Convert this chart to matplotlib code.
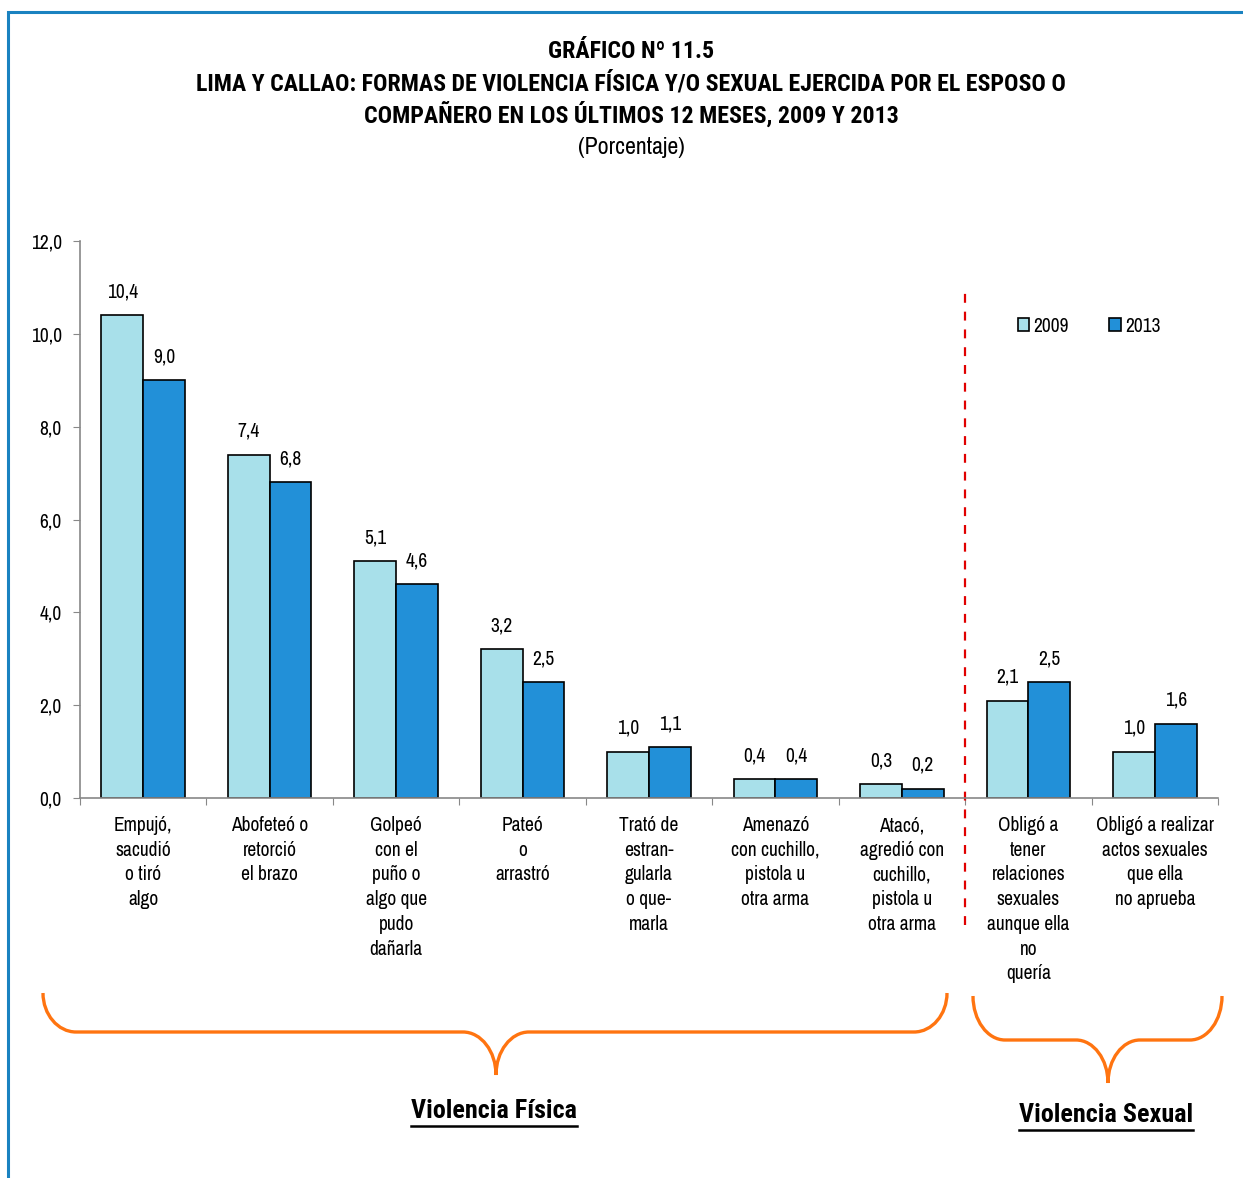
import matplotlib
matplotlib.use('Agg')
import matplotlib.pyplot as plt
import numpy as np
from matplotlib import font_manager
from matplotlib.path import Path
from matplotlib.patches import PathPatch, Patch

# narrow sans like Arial Narrow, falls back to Liberation Sans
CANDIDATES = ['Liberation Sans Narrow', 'Arial Narrow', 'Archivo Narrow',
              'Roboto Condensed', 'PT Sans Narrow', 'Open Sans Condensed']


def wt(f):
    w = f.weight
    if isinstance(w, str):
        return 700 if 'bold' in w.lower() else 400
    return int(w)


fonts = font_manager.fontManager.ttflist
regular = [n for n in CANDIDATES if any(f.name == n and wt(f) < 600 for f in fonts)]
bold = [n for n in CANDIDATES if any(f.name == n and wt(f) >= 700 for f in fonts)]
REG = regular[:1] + ['Liberation Sans', 'DejaVu Sans']
BOLD = bold[:1] + ['Liberation Sans', 'DejaVu Sans']
plt.rcParams['font.family'] = REG

categories = [
    "Empujó,\nsacudió\no tiró\nalgo",
    "Abofeteó o\nretorció\nel brazo",
    "Golpeó\ncon el\npuño o\nalgo que\npudo\ndañarla",
    "Pateó\no\narrastró",
    "Trató de\nestran-\ngularla\no que-\nmarla",
    "Amenazó\ncon cuchillo,\npistola u\notra arma",
    "Atacó,\nagredió con\ncuchillo,\npistola u\notra arma",
    "Obligó a\ntener\nrelaciones\nsexuales\naunque ella\nno\nquería",
    "Obligó a realizar\nactos sexuales\nque ella\nno aprueba",
]
v2009 = [10.4, 7.4, 5.1, 3.2, 1.0, 0.4, 0.3, 2.1, 1.0]
v2013 = [9.0, 6.8, 4.6, 2.5, 1.1, 0.4, 0.2, 2.5, 1.6]
years = ["2009", "2013"]
yticks = [0, 2, 4, 6, 8, 10, 12]

C09 = '#A8E0EA'
C13 = '#2290D8'
ORANGE = '#FF7410'
W, H = 1243, 1178
FS = 14

fig = plt.figure(figsize=(W / 100, H / 100), dpi=100)
ax = fig.add_axes([80 / W, 1 - 798 / H, (1218 - 80) / W, (798 - 241) / H])

x = np.arange(len(categories))
bw = 0.33
b1 = ax.bar(x - bw / 2, v2009, bw, color=C09, edgecolor='black', linewidth=1.2, label=years[0])
b2 = ax.bar(x + bw / 2, v2013, bw, color=C13, edgecolor='black', linewidth=1.2, label=years[1])

for bars, vals in ((b1, v2009), (b2, v2013)):
    for bar, v in zip(bars, vals):
        ax.annotate(f'{v:.1f}'.replace('.', ','),
                    (bar.get_x() + bar.get_width() / 2, bar.get_height()),
                    xytext=(0, 10), textcoords='offset points',
                    ha='center', va='bottom', fontsize=FS)

ax.set_xlim(-0.5, len(categories) - 0.5)
ax.set_ylim(0, 12)
ax.set_yticks(yticks)
ax.set_yticklabels([f'{t:.1f}'.replace('.', ',') for t in yticks], fontsize=FS)
ax.set_xticks(np.arange(len(categories) + 1) - 0.5)
ax.set_xticklabels([])
ax.set_xticks(x, minor=True)
ax.set_xticklabels(categories, minor=True, fontsize=FS, linespacing=1.38, va='top')
ax.tick_params(axis='x', which='minor', length=0, pad=13)
ax.tick_params(axis='x', which='major', length=5, color='#888888', direction='out')
ax.tick_params(axis='y', length=5, color='#888888', direction='out', pad=8)
for s in ('top', 'right'):
    ax.spines[s].set_visible(False)
for s in ('left', 'bottom'):
    ax.spines[s].set_color('#888888')
    ax.spines[s].set_linewidth(1.2)

# divider between physical and sexual violence
ax.axvline(6.5, ymin=-0.228, ymax=0.912, color='#E00000', linestyle=(0, (4, 4)),
           linewidth=1.6, clip_on=False)

handles = [Patch(facecolor=C09, edgecolor='black', linewidth=1.2),
           Patch(facecolor=C13, edgecolor='black', linewidth=1.2)]
ax.legend(handles, years, ncol=2, frameon=False, fontsize=FS,
          handlelength=0.6, handleheight=0.6, handletextpad=0.2, columnspacing=2.1,
          loc='center', bbox_to_anchor=((1089 - 80) / (1218 - 80), (798 - 326) / (798 - 241)))

# overlay in pixel coordinates for titles, braces and frame
ov = fig.add_axes([0, 0, 1, 1], zorder=-1)
ov.set_xlim(0, W)
ov.set_ylim(H, 0)
ov.axis('off')

ov.plot([8, 8, W], [H, 12, 12], color='#1A82C0', linewidth=2.2, solid_joinstyle='miter')

TFS = 17.2
ov.text(631, 52, "GRÁFICO Nº 11.5", ha='center', va='center', fontsize=TFS,
        fontweight='bold', family=BOLD)
ov.text(631, 84, "LIMA Y CALLAO: FORMAS DE VIOLENCIA FÍSICA Y/O SEXUAL EJERCIDA POR EL ESPOSO O",
        ha='center', va='center', fontsize=TFS, fontweight='bold', family=BOLD)
ov.text(631, 115, "COMPAÑERO EN LOS ÚLTIMOS 12 MESES, 2009 Y 2013",
        ha='center', va='center', fontsize=TFS, fontweight='bold', family=BOLD)
ov.text(631, 148, "(Porcentaje)", ha='center', va='center', fontsize=TFS)


def brace(x0, x1, xc, ytop, ymid, ytip, r=33):
    k = 0.55
    verts = [(x0, ytop), (x0, ytop + (ymid - ytop) * k), (x0 + r * (1 - k), ymid), (x0 + r, ymid),
             (xc - r, ymid),
             (xc - r * (1 - k), ymid), (xc, ymid + (ytip - ymid) * (1 - k)), (xc, ytip),
             (xc, ymid + (ytip - ymid) * (1 - k)), (xc + r * (1 - k), ymid), (xc + r, ymid),
             (x1 - r, ymid),
             (x1 - r * (1 - k), ymid), (x1, ytop + (ymid - ytop) * k), (x1, ytop)]
    codes = [Path.MOVETO, Path.CURVE4, Path.CURVE4, Path.CURVE4, Path.LINETO,
             Path.CURVE4, Path.CURVE4, Path.CURVE4, Path.CURVE4, Path.CURVE4, Path.CURVE4,
             Path.LINETO, Path.CURVE4, Path.CURVE4, Path.CURVE4]
    ov.add_patch(PathPatch(Path(verts, codes), facecolor='none', edgecolor=ORANGE,
                           linewidth=2.4, capstyle='butt'))


brace(43, 947, 496, 993, 1032, 1075)
brace(973, 1222, 1108, 996, 1040, 1083, r=32)

t1 = ov.text(494, 1111, "Violencia Física", ha='center', va='center', fontsize=18.8,
             fontweight='bold', family=BOLD)
t2 = ov.text(1106, 1115, "Violencia Sexual", ha='center', va='center', fontsize=18.8,
             fontweight='bold', family=BOLD)

fig.canvas.draw()
r = fig.canvas.get_renderer()
inv = ov.transData.inverted()
for t in (t1, t2):
    bb = t.get_window_extent(r)
    (xa, ya), (xb, yb) = inv.transform([(bb.x0, bb.y0), (bb.x1, bb.y1)])
    ov.plot([xa, xb], [ya + 3, ya + 3], color='black', linewidth=1.8)

fig.savefig('out.png', dpi=100)
